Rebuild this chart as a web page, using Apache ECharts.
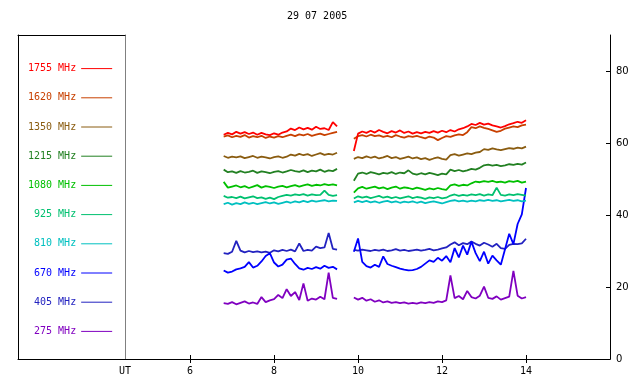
<!DOCTYPE html>
<html>
<head>
<meta charset="utf-8">
<script src="https://cdn.jsdelivr.net/npm/echarts@6/dist/echarts.min.js"></script>
<style>
  html, body { margin: 0; padding: 0; background: #fff; }
  #chart { width: 640px; height: 384px; }
</style>
</head>
<body>
<div id="chart"></div>
<script>
// Time samples (UT hours) for the two observing blocks
const timesA = [6.8, 6.9, 7.0, 7.1, 7.2, 7.3, 7.4, 7.5, 7.6, 7.7, 7.8, 7.9, 8.0, 8.1, 8.2, 8.3, 8.4, 8.5, 8.6, 8.7, 8.8, 8.9, 9.0, 9.1, 9.2, 9.3, 9.4, 9.5]
const timesB = [9.9, 10.0, 10.1, 10.2, 10.3, 10.4, 10.5, 10.6, 10.7, 10.8, 10.9, 11.0, 11.1, 11.2, 11.3, 11.4, 11.5, 11.6, 11.7, 11.8, 11.9, 12.0, 12.1, 12.2, 12.3, 12.4, 12.5, 12.6, 12.7, 12.8, 12.9, 13.0, 13.1, 13.2, 13.3, 13.4, 13.5, 13.6, 13.7, 13.8, 13.9, 14.0]

const xTicks = [6, 8, 10, 12, 14]
const yTicks = [0, 20, 40, 60, 80]

const f1755A = [62.3, 62.8, 62.4, 63.1, 62.6, 63.0, 62.5, 62.9, 62.3, 62.8, 62.4, 62.2, 62.7, 62.3, 62.9, 63.2, 64.0, 63.6, 64.3, 63.8, 64.2, 63.7, 64.5, 63.9, 64.1, 63.6, 65.8, 64.6]
const f1755B = [57.8, 62.6, 63.2, 62.8, 63.4, 62.9, 63.6, 63.1, 62.7, 63.3, 62.9, 63.5, 62.8, 63.2, 62.6, 63.0, 62.7, 63.1, 62.8, 63.3, 62.9, 63.4, 63.0, 63.6, 63.2, 63.8, 64.1, 64.6, 65.3, 65.0, 65.6, 65.1, 65.4, 64.9, 64.6, 64.3, 64.7, 65.2, 65.5, 65.9, 65.6, 66.3]

const f1620A = [61.8, 62.1, 61.6, 62.0, 61.7, 62.2, 61.5, 61.9, 61.6, 62.0, 61.4, 61.8, 61.5, 61.9, 61.6, 62.0, 62.3, 61.9, 62.4, 62.1, 62.5, 62.0, 62.3, 62.6, 62.2, 62.5, 62.8, 63.1]
const f1620B = [61.2, 61.9, 62.2, 61.8, 62.3, 61.9, 62.1, 61.7, 62.0, 61.6, 62.2, 61.8, 61.5, 61.9, 61.7, 62.0, 61.6, 61.3, 61.8, 61.5, 60.8, 61.4, 61.9, 61.7, 62.1, 62.4, 62.2, 63.0, 64.4, 64.1, 64.6, 64.2, 63.9, 63.5, 63.1, 63.4, 64.0, 64.3, 64.6, 64.4, 64.9, 65.1]

const f1350A = [56.4, 55.9, 56.2, 56.0, 56.3, 55.8, 56.1, 56.4, 55.9, 56.2, 56.0, 55.7, 56.1, 56.3, 55.9, 56.2, 56.8, 56.5, 57.0, 56.6, 56.9, 56.4, 56.8, 57.2, 56.7, 57.0, 56.8, 57.3]
const f1350B = [55.6, 56.1, 55.8, 56.3, 55.9, 56.2, 55.7, 56.0, 56.4, 55.8, 56.1, 55.6, 55.9, 56.2, 55.7, 56.0, 55.5, 55.8, 55.3, 55.7, 56.0, 55.6, 55.4, 56.6, 56.9, 56.5, 56.8, 57.1, 56.9, 57.3, 57.5, 58.3, 58.1, 58.5, 58.2, 58.0, 58.3, 58.6, 58.4, 58.7, 58.5, 59.0]

const f1215A = [52.6, 51.9, 52.1, 51.7, 52.2, 51.8, 52.0, 52.3, 51.7, 52.1, 51.9, 51.6, 52.0, 52.2, 51.8, 52.1, 52.5, 52.2, 52.0, 52.4, 51.9, 52.3, 52.1, 52.6, 52.0, 52.4, 52.2, 52.8]
const f1215B = [49.5, 51.5, 51.8, 51.4, 51.9, 51.6, 51.3, 51.7, 51.5, 51.9, 51.4, 51.8, 51.6, 52.4, 51.5, 51.2, 51.6, 51.3, 51.7, 51.4, 51.1, 51.5, 51.3, 52.6, 52.2, 52.5, 52.1, 52.4, 52.8, 52.6, 53.1, 53.8, 54.0, 53.7, 53.9, 53.6, 53.8, 54.1, 53.9, 54.2, 54.0, 54.6]

const f1080A = [49.2, 47.6, 47.9, 48.2, 47.7, 48.0, 47.5, 47.9, 48.3, 47.6, 48.0, 47.8, 47.5, 47.9, 48.1, 47.7, 48.0, 48.3, 47.9, 48.2, 48.5, 48.1, 48.4, 48.2, 48.6, 48.3, 48.5, 48.2]
const f1080B = [46.2, 47.4, 47.8, 47.3, 47.6, 47.9, 47.4, 47.7, 47.2, 47.6, 47.9, 47.3, 47.7, 47.5, 47.2, 47.6, 47.3, 47.0, 47.4, 47.1, 47.5, 47.2, 47.0, 48.2, 48.5, 48.1, 48.4, 48.2, 48.8, 49.3, 49.1, 49.4, 49.2, 49.5, 49.1, 49.3, 49.0, 49.4, 49.2, 49.5, 49.0, 49.3]

const f925A = [45.3, 44.8, 45.0, 44.7, 45.1, 44.6, 44.9, 45.2, 44.7, 44.9, 44.5, 44.8, 44.4, 45.0, 45.3, 45.6, 45.4, 45.7, 45.5, 45.8, 45.4, 45.7, 45.5, 45.6, 46.8, 45.6, 45.3, 45.5]
const f925B = [44.6, 45.2, 44.8, 45.1, 44.7, 45.0, 45.3, 44.8, 45.1, 44.7, 45.0, 44.6, 44.9, 45.2, 44.7, 45.0, 44.8, 44.5, 44.9, 44.7, 45.0, 44.6, 44.8, 45.4, 45.7, 45.3, 45.6, 45.4, 45.7, 45.5, 45.8, 45.4, 45.7, 45.5, 47.6, 45.6, 45.4, 45.7, 45.5, 45.8, 45.6, 45.4]

const f810A = [43.0, 43.4, 42.9, 43.3, 43.0, 43.5, 43.1, 43.4, 43.0, 43.3, 43.6, 43.2, 43.5, 43.1, 43.4, 43.7, 43.4, 43.8, 43.5, 43.9, 43.6, 44.0, 43.7, 43.9, 44.1, 43.8, 44.0, 43.9]
const f810B = [43.5, 43.9, 43.6, 43.9, 43.5, 43.8, 43.4, 43.7, 43.9, 43.5, 43.8, 43.4, 43.7, 43.5, 43.8, 43.4, 43.7, 43.3, 43.6, 43.8, 43.5, 43.2, 43.6, 43.9, 44.1, 43.8, 44.0, 43.7, 44.0, 43.8, 44.1, 43.9, 44.2, 43.9, 44.1, 43.8, 44.0, 44.2, 43.9, 44.1, 43.8, 44.0]

const f670A = [24.6, 24.0, 24.3, 24.9, 25.2, 25.6, 26.9, 25.4, 25.9, 27.1, 28.6, 29.4, 26.8, 25.7, 26.2, 27.6, 27.9, 26.4, 25.2, 24.8, 25.3, 25.0, 25.5, 25.1, 25.9, 25.3, 25.6, 24.9]
const f670B = [29.8, 33.5, 27.0, 25.8, 25.4, 26.2, 25.6, 28.5, 26.4, 25.9, 25.5, 25.1, 24.8, 24.6, 24.7, 25.0, 25.6, 26.5, 27.4, 27.0, 28.1, 27.3, 28.6, 26.9, 30.8, 28.2, 31.5, 29.0, 32.6, 29.4, 27.2, 29.8, 26.5, 28.7, 27.4, 26.2, 30.5, 34.8, 31.9, 37.5, 40.2, 47.5]

const f405A = [29.4, 29.2, 29.8, 32.8, 30.1, 29.6, 30.0, 29.7, 29.9, 29.6, 29.8, 29.5, 30.2, 29.9, 30.3, 30.0, 30.4, 29.9, 32.1, 30.0, 30.3, 30.1, 31.2, 30.8, 31.0, 35.0, 30.6, 30.4]
const f405B = [30.3, 30.1, 30.4, 30.2, 30.0, 30.3, 30.1, 30.4, 30.0, 30.2, 30.5, 30.1, 30.3, 30.0, 30.2, 30.4, 30.1, 30.3, 30.6, 30.2, 30.4, 30.7, 31.0, 31.8, 32.4, 31.6, 32.2, 31.9, 32.6, 32.0, 31.5, 32.3, 31.8, 31.2, 32.0, 30.8, 30.6, 31.7, 32.0, 31.9, 32.1, 33.4]

const f275A = [15.5, 15.3, 15.8, 15.2, 15.6, 16.0, 15.4, 15.7, 15.3, 17.2, 15.8, 16.3, 16.6, 17.8, 16.9, 19.4, 17.5, 18.6, 16.4, 21.0, 16.2, 16.8, 16.5, 17.3, 16.6, 24.0, 17.0, 16.7]
const f275B = [17.1, 16.5, 17.0, 16.2, 16.6, 15.9, 16.3, 15.7, 16.0, 15.6, 15.8, 15.5, 15.7, 15.4, 15.6, 15.4, 15.7, 15.5, 15.8, 15.6, 16.0, 15.8, 16.3, 23.2, 16.9, 17.5, 16.6, 18.9, 17.2, 16.8, 17.6, 20.1, 17.0, 16.7, 17.4, 16.5, 16.9, 17.3, 24.5, 17.6, 16.8, 17.2]

// legend order, top to bottom
const bands = [
  { name: '1755 MHz', color: '#ff0000', a: f1755A, b: f1755B },
  { name: '1620 MHz', color: '#c84000', a: f1620A, b: f1620B },
  { name: '1350 MHz', color: '#8a5c10', a: f1350A, b: f1350B },
  { name: '1215 MHz', color: '#228022', a: f1215A, b: f1215B },
  { name: '1080 MHz', color: '#00c000', a: f1080A, b: f1080B },
  { name: '925 MHz', color: '#00c070', a: f925A, b: f925B },
  { name: '810 MHz', color: '#00c0c0', a: f810A, b: f810B },
  { name: '670 MHz', color: '#0000ff', a: f670A, b: f670B },
  { name: '405 MHz', color: '#2222c0', a: f405A, b: f405B },
  { name: '275 MHz', color: '#8000c0', a: f275A, b: f275B },
]

const mono = 'DejaVu Sans Mono'

// join both blocks, with an empty point so the line breaks in the gap
function toPoints(a, b) {
  return [
    ...timesA.map((t, i) => [t, a[i]]),
    [9.7, '-'],
    ...timesB.map((t, i) => [t, b[i]]),
  ]
}

const chart = echarts.init(document.getElementById('chart'), null, { renderer: 'canvas' })

const plainLine = { show: true, lineStyle: { color: '#000', width: 1 } }

chart.setOption({
  animation: false,
  backgroundColor: '#fff',
  title: {
    text: '29 07 2005',
    left: 287,
    top: 11,
    padding: 0,
    textStyle: { fontFamily: mono, fontSize: 10, fontWeight: 'normal', color: '#000' },
  },
  legend: {
    orient: 'vertical',
    align: 'right',
    left: 28,
    top: 63,
    padding: 0,
    itemWidth: 31,
    itemHeight: 14,
    itemGap: 18,
    selectedMode: false,
    // line sample only, no symbol
    itemStyle: { opacity: 0 },
    lineStyle: { width: 1 },
    data: bands.map((b) => ({
      name: b.name,
      textStyle: { color: b.color, fontFamily: mono, fontSize: 10 },
    })),
  },
  grid: [
    // legend panel
    { left: 18, width: 107, top: 35, bottom: 25 },
    // data panel
    { left: 125, right: 30, top: 35, bottom: 25 },
  ],
  xAxis: [
    { gridIndex: 0, type: 'value', min: 0, max: 1, position: 'bottom', axisLine: plainLine,
      axisTick: { show: false }, axisLabel: { show: false }, splitLine: { show: false } },
    { gridIndex: 0, type: 'value', min: 0, max: 1, position: 'top', axisLine: plainLine,
      axisTick: { show: false }, axisLabel: { show: false }, splitLine: { show: false } },
    {
      gridIndex: 1, type: 'value', min: 4.45, max: 16, position: 'bottom',
      axisLine: plainLine,
      axisTick: { show: true, inside: true, length: 4, customValues: xTicks, lineStyle: { color: '#000' } },
      axisLabel: {
        customValues: [4.45, ...xTicks],
        formatter: (v) => (v < 5 ? 'UT' : String(v)),
        color: '#000', fontFamily: mono, fontSize: 10, margin: 7,
      },
      splitLine: { show: false },
    },
    {
      gridIndex: 1, type: 'value', min: 4.45, max: 16, position: 'top',
      axisLine: plainLine,
      axisTick: { show: true, inside: true, length: 4, customValues: xTicks, lineStyle: { color: '#000' } },
      axisLabel: { show: false },
      splitLine: { show: false },
    },
  ],
  yAxis: [
    { gridIndex: 0, type: 'value', min: 0, max: 1, position: 'left', axisLine: plainLine,
      axisTick: { show: false }, axisLabel: { show: false }, splitLine: { show: false } },
    // grey divider between legend and plot
    { gridIndex: 1, type: 'value', min: 0, max: 90, position: 'left',
      axisLine: { show: true, lineStyle: { color: '#808080', width: 1 } },
      axisTick: { show: false }, axisLabel: { show: false }, splitLine: { show: false } },
    {
      gridIndex: 1, type: 'value', min: 0, max: 90, position: 'right',
      axisLine: plainLine,
      axisTick: { show: true, inside: true, length: 4, customValues: yTicks, lineStyle: { color: '#000' } },
      axisLabel: { customValues: yTicks, color: '#000', fontFamily: 'DejaVu Sans', fontSize: 10, margin: 6 },
      splitLine: { show: false },
    },
  ],
  series: bands.slice().reverse().map((b) => ({
    name: b.name,
    type: 'line',
    xAxisIndex: 2,
    yAxisIndex: 2,
    data: toPoints(b.a, b.b),
    symbol: 'none',
    lineStyle: { color: b.color, width: 1.8 },
    itemStyle: { color: b.color },
  })),
})
</script>
</body>
</html>
